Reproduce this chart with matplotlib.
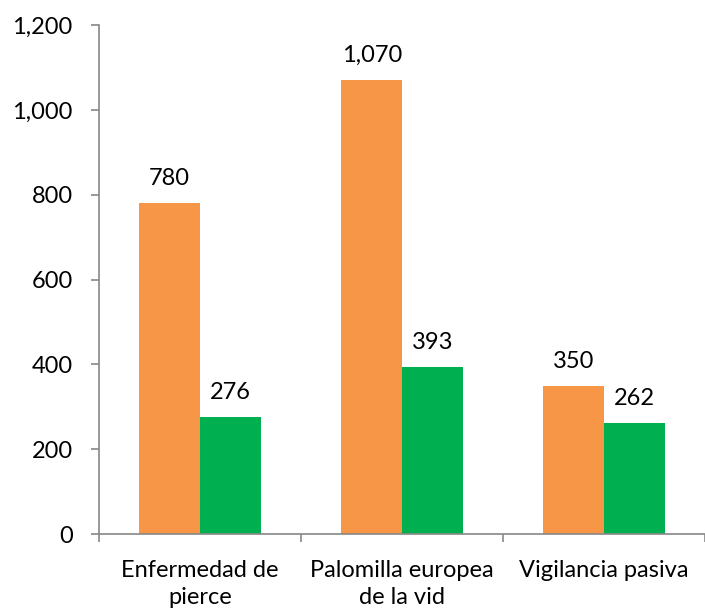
import matplotlib.pyplot as plt
import numpy as np
from matplotlib.ticker import FuncFormatter, FixedLocator

plt.rcParams['font.family'] = ['Lato', 'DejaVu Sans']

categories = ["Enfermedad de\npierce", "Palomilla europea\nde la vid", "Vigilancia pasiva"]
serie_naranja = [780, 1070, 350]
serie_verde = [276, 393, 262]

fig = plt.figure(figsize=(7.05, 6.15), dpi=100)
ax = fig.add_axes([0.1404, 0.1317, 0.8596, 0.8276])

x = np.arange(len(categories))
w = 0.30
b1 = ax.bar(x - w / 2, serie_naranja, w, color='#F79646')
b2 = ax.bar(x + w / 2, serie_verde, w, color='#00B050')

for bars in (b1, b2):
    for bar in bars:
        h = bar.get_height()
        ax.annotate(f'{h:,.0f}', (bar.get_x() + bar.get_width() / 2, h),
                    xytext=(0, 10), textcoords='offset points',
                    ha='center', va='bottom', fontsize=17)

ax.set_xlim(-0.5, len(categories) - 0.5)
ax.set_ylim(0, 1200)
ax.set_yticks(range(0, 1201, 200))
ax.yaxis.set_major_formatter(FuncFormatter(lambda v, p: f'{v:,.0f}'))

ax.set_xticks(x)
ax.set_xticklabels(categories, fontsize=17, linespacing=1.35)
ax.tick_params(axis='x', which='major', length=0, pad=19)
ax.xaxis.set_minor_locator(FixedLocator(np.arange(-0.5, len(categories), 1.0)))
ax.tick_params(axis='x', which='minor', length=6, color='#888888', width=1.2)
ax.tick_params(axis='y', labelsize=17, length=6, color='#888888', width=1.2, pad=13)

for s in ('top', 'right'):
    ax.spines[s].set_visible(False)
for s in ('left', 'bottom'):
    ax.spines[s].set_color('#888888')
    ax.spines[s].set_linewidth(1.2)

fig.savefig('out.png', dpi=100)
